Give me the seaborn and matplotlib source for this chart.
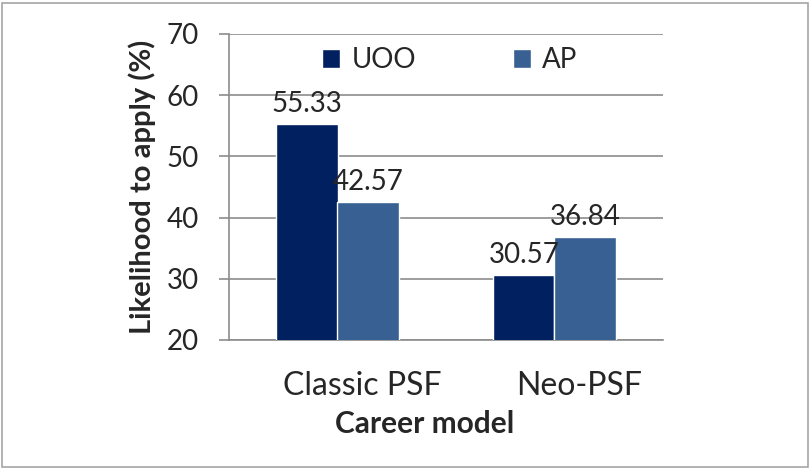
import pandas as pd
import matplotlib.pyplot as plt
import matplotlib.patches as mpatches
from matplotlib.transforms import ScaledTranslation
import seaborn as sns

# chart values
models = ['Classic PSF', 'Neo-PSF']
uoo = [55.33, 30.57]
ap = [42.57, 36.84]
groups = ['UOO', 'AP']
colors = ['#002060', '#386092']

df = pd.DataFrame({
    'Career model': models * 2,
    'Group': ['UOO'] * len(models) + ['AP'] * len(models),
    'Value': uoo + ap,
})

sns.set_style('white')
plt.rcParams['font.family'] = ['Lato', 'DejaVu Sans']

fig = plt.figure(figsize=(8.12, 4.69), dpi=100)
ax = fig.add_axes([229 / 812, 1 - 340 / 469, 434 / 812, 306 / 469])

sns.barplot(data=df, x='Career model', y='Value', hue='Group', hue_order=groups,
            palette=colors, width=0.565, saturation=1, ax=ax, zorder=3)

for c in ax.containers:
    ax.bar_label(c, labels=['{:.2f}'.format(v) for v in c.datavalues],
                 fontsize=20, padding=5)

ax.set_ylim(20, 70)
ax.set_yticks(range(20, 71, 10))
ax.yaxis.grid(True, color='#8c8c8c', linewidth=1.2, zorder=0)
ax.tick_params(axis='y', length=7.5, width=1.2, color='#8c8c8c', pad=14, labelsize=20, left=True)
ax.tick_params(axis='x', length=0, pad=22, labelsize=23)

# category labels sit a bit right of the bars in the original
shift = ScaledTranslation(0.25, 0, fig.dpi_scale_trans)
for lab in ax.get_xticklabels():
    lab.set_transform(lab.get_transform() + shift)

for s in ['top', 'right']:
    ax.spines[s].set_visible(False)
for s in ['left', 'bottom']:
    ax.spines[s].set_color('#8c8c8c')
    ax.spines[s].set_linewidth(1.2)

ax.set_ylabel('Likelihood to apply (%)', fontsize=21, fontweight='bold', labelpad=8)
ax.set_xlabel('Career model', fontsize=21.5, fontweight='bold')
ax.xaxis.set_label_coords((425 - 229) / 434, -0.228)

ax.legend(ncol=2, frameon=False, fontsize=20, loc='center',
          bbox_to_anchor=(0.5 + 4 / 434, (340 - 60) / 306), handlelength=0.65,
          handleheight=0.65, handletextpad=0.4, columnspacing=3.5)

# outer chart border
fig.patches.append(mpatches.Rectangle((2 / 812, 2 / 469), 806 / 812, 464 / 469,
                                      transform=fig.transFigure, fill=False,
                                      edgecolor='#a6a6a6', linewidth=1.2))

fig.savefig('out.png', dpi=100)
